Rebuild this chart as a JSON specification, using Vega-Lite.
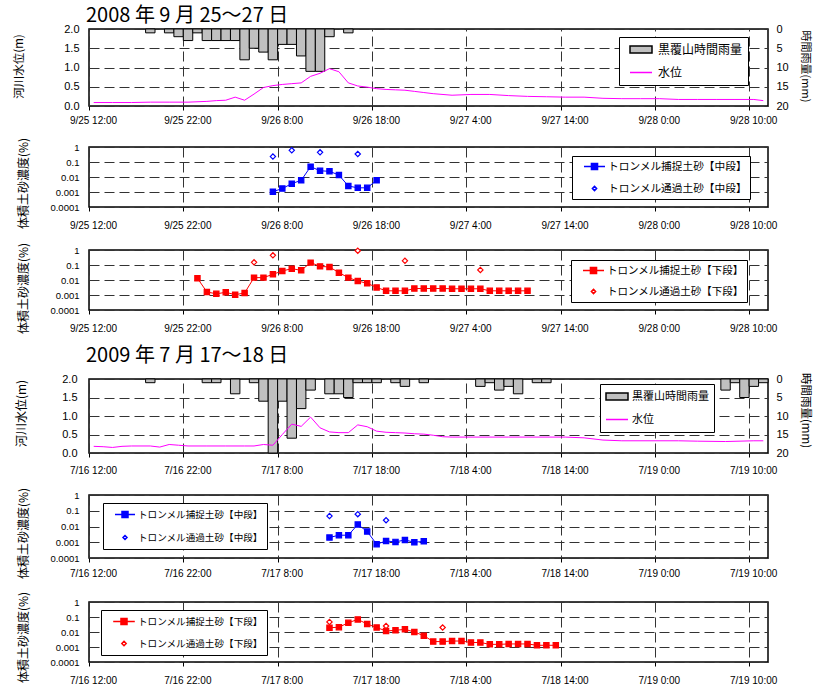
{
"$schema":"https://vega.github.io/schema/vega-lite/v6.json",
"background":"#ffffff",
"padding":{"left":12,"top":5,"right":10,"bottom":0},
"spacing":10,
"config":{
 "font":"Noto Sans CJK JP",
 "view":{"stroke":"#000","strokeWidth":1.5},
 "axis":{"labelFont":"Liberation Sans","labelColor":"#000","labelFontSize":10,"titleFont":"Noto Sans CJK JP","titleFontWeight":"normal","titleColor":"#000","domain":false,"tickColor":"#000","gridColor":"#333","gridDash":[10,5],"gridWidth":1,"gridOpacity":1},
 "axisX":{"tickSize":4,"labelPadding":9,"labelOverlap":false,"labelFlush":false,"labelAngle":0,"labelOffset":4,"grid":true},
 "axisY":{"ticks":false,"labelPadding":10},
 "legend":{"labelFont":"Noto Sans CJK JP","labelColor":"#000"}
},
"datasets":{
 "rain2008":[
  {"t":"2008-09-25T18:00","t2":"2008-09-25T19:00","v":1},
  {"t":"2008-09-25T20:00","t2":"2008-09-25T21:00","v":1},
  {"t":"2008-09-25T21:00","t2":"2008-09-25T22:00","v":2},
  {"t":"2008-09-25T22:00","t2":"2008-09-25T23:00","v":3},
  {"t":"2008-09-25T23:00","t2":"2008-09-26T00:00","v":1},
  {"t":"2008-09-26T00:00","t2":"2008-09-26T01:00","v":3},
  {"t":"2008-09-26T01:00","t2":"2008-09-26T02:00","v":3},
  {"t":"2008-09-26T02:00","t2":"2008-09-26T03:00","v":3},
  {"t":"2008-09-26T03:00","t2":"2008-09-26T04:00","v":3},
  {"t":"2008-09-26T04:00","t2":"2008-09-26T05:00","v":8},
  {"t":"2008-09-26T05:00","t2":"2008-09-26T06:00","v":5},
  {"t":"2008-09-26T06:00","t2":"2008-09-26T07:00","v":6},
  {"t":"2008-09-26T07:00","t2":"2008-09-26T08:00","v":8},
  {"t":"2008-09-26T08:00","t2":"2008-09-26T09:00","v":4},
  {"t":"2008-09-26T09:00","t2":"2008-09-26T10:00","v":4},
  {"t":"2008-09-26T10:00","t2":"2008-09-26T11:00","v":7},
  {"t":"2008-09-26T11:00","t2":"2008-09-26T12:00","v":11},
  {"t":"2008-09-26T12:00","t2":"2008-09-26T13:00","v":11},
  {"t":"2008-09-26T13:00","t2":"2008-09-26T14:00","v":2},
  {"t":"2008-09-26T15:00","t2":"2008-09-26T16:00","v":1}
 ],
 "level2008":[
  {"t":"2008-09-25T12:30","v":0.09},{"t":"2008-09-25T14:30","v":0.09},{"t":"2008-09-25T16:30","v":0.09},
  {"t":"2008-09-25T18:30","v":0.10},{"t":"2008-09-25T20:30","v":0.10},{"t":"2008-09-25T22:30","v":0.10},
  {"t":"2008-09-26T00:30","v":0.12},{"t":"2008-09-26T01:30","v":0.14},{"t":"2008-09-26T02:30","v":0.15},
  {"t":"2008-09-26T03:30","v":0.23},{"t":"2008-09-26T04:30","v":0.15},{"t":"2008-09-26T05:30","v":0.31},
  {"t":"2008-09-26T06:30","v":0.48},{"t":"2008-09-26T07:30","v":0.53},{"t":"2008-09-26T08:30","v":0.56},
  {"t":"2008-09-26T09:30","v":0.58},{"t":"2008-09-26T10:30","v":0.60},{"t":"2008-09-26T11:30","v":0.77},
  {"t":"2008-09-26T12:30","v":0.85},{"t":"2008-09-26T13:30","v":0.97},{"t":"2008-09-26T14:30","v":0.89},
  {"t":"2008-09-26T15:30","v":0.60},{"t":"2008-09-26T16:30","v":0.52},{"t":"2008-09-26T17:30","v":0.49},
  {"t":"2008-09-26T18:30","v":0.45},{"t":"2008-09-26T19:30","v":0.43},{"t":"2008-09-26T20:30","v":0.42},
  {"t":"2008-09-26T21:30","v":0.41},{"t":"2008-09-26T22:30","v":0.38},{"t":"2008-09-26T23:30","v":0.35},
  {"t":"2008-09-27T00:30","v":0.32},{"t":"2008-09-27T02:30","v":0.28},{"t":"2008-09-27T04:30","v":0.30},
  {"t":"2008-09-27T06:30","v":0.30},{"t":"2008-09-27T08:30","v":0.27},{"t":"2008-09-27T10:30","v":0.25},
  {"t":"2008-09-27T12:30","v":0.24},{"t":"2008-09-27T14:30","v":0.23},{"t":"2008-09-27T16:30","v":0.23},
  {"t":"2008-09-27T18:30","v":0.20},{"t":"2008-09-27T20:30","v":0.19},{"t":"2008-09-27T22:30","v":0.19},
  {"t":"2008-09-28T00:30","v":0.19},{"t":"2008-09-28T02:30","v":0.17},{"t":"2008-09-28T04:30","v":0.17},
  {"t":"2008-09-28T06:30","v":0.17},{"t":"2008-09-28T08:30","v":0.17},{"t":"2008-09-28T10:30","v":0.17},
  {"t":"2008-09-28T11:30","v":0.14}
 ],
 "c08m":[
  {"t":"2008-09-26T07:30","v":0.00105,"s":"トロンメル捕捉土砂【中段】"},
  {"t":"2008-09-26T08:30","v":0.0017,"s":"トロンメル捕捉土砂【中段】"},
  {"t":"2008-09-26T09:30","v":0.0036,"s":"トロンメル捕捉土砂【中段】"},
  {"t":"2008-09-26T10:30","v":0.006,"s":"トロンメル捕捉土砂【中段】"},
  {"t":"2008-09-26T11:30","v":0.049,"s":"トロンメル捕捉土砂【中段】"},
  {"t":"2008-09-26T12:30","v":0.026,"s":"トロンメル捕捉土砂【中段】"},
  {"t":"2008-09-26T13:30","v":0.024,"s":"トロンメル捕捉土砂【中段】"},
  {"t":"2008-09-26T14:30","v":0.0135,"s":"トロンメル捕捉土砂【中段】"},
  {"t":"2008-09-26T15:30","v":0.0025,"s":"トロンメル捕捉土砂【中段】"},
  {"t":"2008-09-26T16:30","v":0.0019,"s":"トロンメル捕捉土砂【中段】"},
  {"t":"2008-09-26T17:30","v":0.0019,"s":"トロンメル捕捉土砂【中段】"},
  {"t":"2008-09-26T18:30","v":0.006,"s":"トロンメル捕捉土砂【中段】"},
  {"t":"2008-09-26T07:30","v":0.23,"s":"トロンメル通過土砂【中段】"},
  {"t":"2008-09-26T09:30","v":0.6,"s":"トロンメル通過土砂【中段】"},
  {"t":"2008-09-26T12:30","v":0.44,"s":"トロンメル通過土砂【中段】"},
  {"t":"2008-09-26T16:30","v":0.34,"s":"トロンメル通過土砂【中段】"}
 ],
 "c08l":[
  {"t":"2008-09-25T23:30","v":0.013,"s":"トロンメル捕捉土砂【下段】"},
  {"t":"2008-09-26T00:30","v":0.0016,"s":"トロンメル捕捉土砂【下段】"},
  {"t":"2008-09-26T01:30","v":0.0012,"s":"トロンメル捕捉土砂【下段】"},
  {"t":"2008-09-26T02:30","v":0.0015,"s":"トロンメル捕捉土砂【下段】"},
  {"t":"2008-09-26T03:30","v":0.00105,"s":"トロンメル捕捉土砂【下段】"},
  {"t":"2008-09-26T04:30","v":0.00136,"s":"トロンメル捕捉土砂【下段】"},
  {"t":"2008-09-26T05:30","v":0.0144,"s":"トロンメル捕捉土砂【下段】"},
  {"t":"2008-09-26T06:30","v":0.0144,"s":"トロンメル捕捉土砂【下段】"},
  {"t":"2008-09-26T07:30","v":0.024,"s":"トロンメル捕捉土砂【下段】"},
  {"t":"2008-09-26T08:30","v":0.04,"s":"トロンメル捕捉土砂【下段】"},
  {"t":"2008-09-26T09:30","v":0.057,"s":"トロンメル捕捉土砂【下段】"},
  {"t":"2008-09-26T10:30","v":0.044,"s":"トロンメル捕捉土砂【下段】"},
  {"t":"2008-09-26T11:30","v":0.144,"s":"トロンメル捕捉土砂【下段】"},
  {"t":"2008-09-26T12:30","v":0.081,"s":"トロンメル捕捉土砂【下段】"},
  {"t":"2008-09-26T13:30","v":0.074,"s":"トロンメル捕捉土砂【下段】"},
  {"t":"2008-09-26T14:30","v":0.031,"s":"トロンメル捕捉土砂【下段】"},
  {"t":"2008-09-26T15:30","v":0.0144,"s":"トロンメル捕捉土砂【下段】"},
  {"t":"2008-09-26T16:30","v":0.0086,"s":"トロンメル捕捉土砂【下段】"},
  {"t":"2008-09-26T17:30","v":0.006,"s":"トロンメル捕捉土砂【下段】"},
  {"t":"2008-09-26T18:30","v":0.0032,"s":"トロンメル捕捉土砂【下段】"},
  {"t":"2008-09-26T19:30","v":0.0019,"s":"トロンメル捕捉土砂【下段】"},
  {"t":"2008-09-26T20:30","v":0.0019,"s":"トロンメル捕捉土砂【下段】"},
  {"t":"2008-09-26T21:30","v":0.0019,"s":"トロンメル捕捉土砂【下段】"},
  {"t":"2008-09-26T22:30","v":0.0027,"s":"トロンメル捕捉土砂【下段】"},
  {"t":"2008-09-26T23:30","v":0.0027,"s":"トロンメル捕捉土砂【下段】"},
  {"t":"2008-09-27T00:30","v":0.0027,"s":"トロンメル捕捉土砂【下段】"},
  {"t":"2008-09-27T01:30","v":0.0027,"s":"トロンメル捕捉土砂【下段】"},
  {"t":"2008-09-27T02:30","v":0.0026,"s":"トロンメル捕捉土砂【下段】"},
  {"t":"2008-09-27T03:30","v":0.0026,"s":"トロンメル捕捉土砂【下段】"},
  {"t":"2008-09-27T04:30","v":0.0026,"s":"トロンメル捕捉土砂【下段】"},
  {"t":"2008-09-27T05:30","v":0.0026,"s":"トロンメル捕捉土砂【下段】"},
  {"t":"2008-09-27T06:30","v":0.0019,"s":"トロンメル捕捉土砂【下段】"},
  {"t":"2008-09-27T07:30","v":0.0019,"s":"トロンメル捕捉土砂【下段】"},
  {"t":"2008-09-27T08:30","v":0.0019,"s":"トロンメル捕捉土砂【下段】"},
  {"t":"2008-09-27T09:30","v":0.0019,"s":"トロンメル捕捉土砂【下段】"},
  {"t":"2008-09-27T10:30","v":0.0019,"s":"トロンメル捕捉土砂【下段】"},
  {"t":"2008-09-26T05:30","v":0.15,"s":"トロンメル通過土砂【下段】"},
  {"t":"2008-09-26T07:30","v":0.44,"s":"トロンメル通過土砂【下段】"},
  {"t":"2008-09-26T16:30","v":0.9,"s":"トロンメル通過土砂【下段】"},
  {"t":"2008-09-26T21:30","v":0.19,"s":"トロンメル通過土砂【下段】"},
  {"t":"2008-09-27T05:30","v":0.047,"s":"トロンメル通過土砂【下段】"}
 ],
 "rain2009":[
  {"t":"2009-07-16T18:00","t2":"2009-07-16T19:00","v":1},
  {"t":"2009-07-17T00:00","t2":"2009-07-17T01:00","v":1},
  {"t":"2009-07-17T01:00","t2":"2009-07-17T02:00","v":1},
  {"t":"2009-07-17T03:00","t2":"2009-07-17T04:00","v":4},
  {"t":"2009-07-17T05:00","t2":"2009-07-17T06:00","v":1},
  {"t":"2009-07-17T06:00","t2":"2009-07-17T07:00","v":6},
  {"t":"2009-07-17T07:00","t2":"2009-07-17T08:00","v":20},
  {"t":"2009-07-17T08:00","t2":"2009-07-17T09:00","v":6},
  {"t":"2009-07-17T09:00","t2":"2009-07-17T10:00","v":16},
  {"t":"2009-07-17T10:00","t2":"2009-07-17T11:00","v":8},
  {"t":"2009-07-17T11:00","t2":"2009-07-17T12:00","v":3},
  {"t":"2009-07-17T13:00","t2":"2009-07-17T14:00","v":4},
  {"t":"2009-07-17T14:00","t2":"2009-07-17T15:00","v":4},
  {"t":"2009-07-17T15:00","t2":"2009-07-17T16:00","v":5},
  {"t":"2009-07-17T16:00","t2":"2009-07-17T17:00","v":1},
  {"t":"2009-07-17T17:00","t2":"2009-07-17T18:00","v":1},
  {"t":"2009-07-17T18:00","t2":"2009-07-17T19:00","v":1},
  {"t":"2009-07-17T20:00","t2":"2009-07-17T21:00","v":1},
  {"t":"2009-07-17T21:00","t2":"2009-07-17T22:00","v":2},
  {"t":"2009-07-17T23:00","t2":"2009-07-18T00:00","v":1},
  {"t":"2009-07-18T05:00","t2":"2009-07-18T06:00","v":2},
  {"t":"2009-07-18T06:00","t2":"2009-07-18T07:00","v":1},
  {"t":"2009-07-18T07:00","t2":"2009-07-18T08:00","v":3},
  {"t":"2009-07-18T08:00","t2":"2009-07-18T09:00","v":2},
  {"t":"2009-07-18T09:00","t2":"2009-07-18T10:00","v":4},
  {"t":"2009-07-18T11:00","t2":"2009-07-18T12:00","v":1},
  {"t":"2009-07-18T12:00","t2":"2009-07-18T13:00","v":1},
  {"t":"2009-07-19T07:00","t2":"2009-07-19T08:00","v":3},
  {"t":"2009-07-19T08:00","t2":"2009-07-19T09:00","v":1},
  {"t":"2009-07-19T09:00","t2":"2009-07-19T10:00","v":5},
  {"t":"2009-07-19T10:00","t2":"2009-07-19T11:00","v":2},
  {"t":"2009-07-19T11:00","t2":"2009-07-19T12:00","v":1}
 ],
 "level2009":[
  {"t":"2009-07-16T12:30","v":0.18},{"t":"2009-07-16T13:30","v":0.17},{"t":"2009-07-16T14:30","v":0.15},
  {"t":"2009-07-16T15:30","v":0.18},{"t":"2009-07-16T16:30","v":0.19},{"t":"2009-07-16T18:30","v":0.19},
  {"t":"2009-07-16T19:30","v":0.16},{"t":"2009-07-16T20:30","v":0.23},{"t":"2009-07-16T21:30","v":0.21},
  {"t":"2009-07-16T22:30","v":0.19},{"t":"2009-07-17T00:30","v":0.19},{"t":"2009-07-17T02:30","v":0.19},
  {"t":"2009-07-17T04:30","v":0.19},{"t":"2009-07-17T05:30","v":0.19},{"t":"2009-07-17T06:30","v":0.23},
  {"t":"2009-07-17T07:30","v":0.21},{"t":"2009-07-17T08:30","v":0.50},{"t":"2009-07-17T09:30","v":0.78},
  {"t":"2009-07-17T10:30","v":0.72},{"t":"2009-07-17T11:30","v":0.97},{"t":"2009-07-17T12:30","v":0.68},
  {"t":"2009-07-17T13:30","v":0.57},{"t":"2009-07-17T14:30","v":0.55},{"t":"2009-07-17T15:30","v":0.55},
  {"t":"2009-07-17T16:30","v":0.76},{"t":"2009-07-17T17:30","v":0.71},{"t":"2009-07-17T18:30","v":0.59},
  {"t":"2009-07-17T19:30","v":0.56},{"t":"2009-07-17T20:30","v":0.55},{"t":"2009-07-17T21:30","v":0.54},
  {"t":"2009-07-17T22:30","v":0.52},{"t":"2009-07-17T23:30","v":0.51},{"t":"2009-07-18T00:30","v":0.48},
  {"t":"2009-07-18T01:30","v":0.44},{"t":"2009-07-18T02:30","v":0.43},{"t":"2009-07-18T08:30","v":0.43},
  {"t":"2009-07-18T14:30","v":0.43},{"t":"2009-07-18T16:30","v":0.41},{"t":"2009-07-18T18:30","v":0.35},
  {"t":"2009-07-18T20:30","v":0.33},{"t":"2009-07-19T02:30","v":0.33},{"t":"2009-07-19T04:30","v":0.32},
  {"t":"2009-07-19T07:30","v":0.31},{"t":"2009-07-19T10:30","v":0.33},{"t":"2009-07-19T11:30","v":0.33}
 ],
 "c09m":[
  {"t":"2009-07-17T13:30","v":0.002,"s":"トロンメル捕捉土砂【中段】"},
  {"t":"2009-07-17T14:30","v":0.0028,"s":"トロンメル捕捉土砂【中段】"},
  {"t":"2009-07-17T15:30","v":0.0028,"s":"トロンメル捕捉土砂【中段】"},
  {"t":"2009-07-17T16:30","v":0.0134,"s":"トロンメル捕捉土砂【中段】"},
  {"t":"2009-07-17T17:30","v":0.0048,"s":"トロンメル捕捉土砂【中段】"},
  {"t":"2009-07-17T18:30","v":0.00075,"s":"トロンメル捕捉土砂【中段】"},
  {"t":"2009-07-17T19:30","v":0.0012,"s":"トロンメル捕捉土砂【中段】"},
  {"t":"2009-07-17T20:30","v":0.00105,"s":"トロンメル捕捉土砂【中段】"},
  {"t":"2009-07-17T21:30","v":0.0014,"s":"トロンメル捕捉土砂【中段】"},
  {"t":"2009-07-17T22:30","v":0.001,"s":"トロンメル捕捉土砂【中段】"},
  {"t":"2009-07-17T23:30","v":0.00115,"s":"トロンメル捕捉土砂【中段】"},
  {"t":"2009-07-17T13:30","v":0.046,"s":"トロンメル通過土砂【中段】"},
  {"t":"2009-07-17T16:30","v":0.061,"s":"トロンメル通過土砂【中段】"},
  {"t":"2009-07-17T19:30","v":0.025,"s":"トロンメル通過土砂【中段】"}
 ],
 "c09l":[
  {"t":"2009-07-17T13:30","v":0.019,"s":"トロンメル捕捉土砂【下段】"},
  {"t":"2009-07-17T14:30","v":0.021,"s":"トロンメル捕捉土砂【下段】"},
  {"t":"2009-07-17T15:30","v":0.041,"s":"トロンメル捕捉土砂【下段】"},
  {"t":"2009-07-17T16:30","v":0.069,"s":"トロンメル捕捉土砂【下段】"},
  {"t":"2009-07-17T17:30","v":0.034,"s":"トロンメル捕捉土砂【下段】"},
  {"t":"2009-07-17T18:30","v":0.02,"s":"トロンメル捕捉土砂【下段】"},
  {"t":"2009-07-17T19:30","v":0.0117,"s":"トロンメル捕捉土砂【下段】"},
  {"t":"2009-07-17T20:30","v":0.013,"s":"トロンメル捕捉土砂【下段】"},
  {"t":"2009-07-17T21:30","v":0.015,"s":"トロンメル捕捉土砂【下段】"},
  {"t":"2009-07-17T22:30","v":0.01,"s":"トロンメル捕捉土砂【下段】"},
  {"t":"2009-07-17T23:30","v":0.0057,"s":"トロンメル捕捉土砂【下段】"},
  {"t":"2009-07-18T00:30","v":0.0023,"s":"トロンメル捕捉土砂【下段】"},
  {"t":"2009-07-18T01:30","v":0.0023,"s":"トロンメル捕捉土砂【下段】"},
  {"t":"2009-07-18T02:30","v":0.0025,"s":"トロンメル捕捉土砂【下段】"},
  {"t":"2009-07-18T03:30","v":0.0025,"s":"トロンメル捕捉土砂【下段】"},
  {"t":"2009-07-18T04:30","v":0.002,"s":"トロンメル捕捉土砂【下段】"},
  {"t":"2009-07-18T05:30","v":0.002,"s":"トロンメル捕捉土砂【下段】"},
  {"t":"2009-07-18T06:30","v":0.0015,"s":"トロンメル捕捉土砂【下段】"},
  {"t":"2009-07-18T07:30","v":0.0015,"s":"トロンメル捕捉土砂【下段】"},
  {"t":"2009-07-18T08:30","v":0.0016,"s":"トロンメル捕捉土砂【下段】"},
  {"t":"2009-07-18T09:30","v":0.0016,"s":"トロンメル捕捉土砂【下段】"},
  {"t":"2009-07-18T10:30","v":0.0016,"s":"トロンメル捕捉土砂【下段】"},
  {"t":"2009-07-18T11:30","v":0.0013,"s":"トロンメル捕捉土砂【下段】"},
  {"t":"2009-07-18T12:30","v":0.0013,"s":"トロンメル捕捉土砂【下段】"},
  {"t":"2009-07-18T13:30","v":0.0013,"s":"トロンメル捕捉土砂【下段】"},
  {"t":"2009-07-17T13:30","v":0.047,"s":"トロンメル通過土砂【下段】"},
  {"t":"2009-07-17T19:30","v":0.025,"s":"トロンメル通過土砂【下段】"},
  {"t":"2009-07-18T01:30","v":0.02,"s":"トロンメル通過土砂【下段】"}
 ]
},
"resolve":{"scale":{"size":"independent"},"legend":{"size":"independent"}},
"vconcat":[
 {
  "width":679,"height":77,
  "title":{"text":"2008 年 9 月 25～27 日","anchor":"start","frame":"group","dx":-3,"offset":-3,"fontSize":20,"font":"Noto Sans CJK JP","fontWeight":"normal","color":"#000"},
  "encoding":{"x":{"field":"t","type":"temporal","title":null,"scale":{"domain":[{"year":2008,"month":9,"date":25,"hours":12},{"year":2008,"month":9,"date":28,"hours":12}]},"axis":{"values":[{"year":2008,"month":9,"date":25,"hours":12},{"year":2008,"month":9,"date":25,"hours":22},{"year":2008,"month":9,"date":26,"hours":8},{"year":2008,"month":9,"date":26,"hours":18},{"year":2008,"month":9,"date":27,"hours":4},{"year":2008,"month":9,"date":27,"hours":14},{"year":2008,"month":9,"date":28,"hours":0},{"year":2008,"month":9,"date":28,"hours":10}],"format":"%-m/%-d %-H:%M","labelPadding":5}}},
  "layer":[
   {"data":{"name":"rain2008"},"mark":{"type":"rect","stroke":"#000","strokeWidth":1,"fill":"#c0c0c0"},
    "encoding":{"x2":{"field":"t2"},
     "y":{"field":"v","type":"quantitative","scale":{"domain":[0,20],"reverse":true},"axis":{"orient":"right","title":"時間雨量(mm)","values":[0,5,10,15,20],"grid":false,"labelFontSize":11,"labelPadding":8,"titleFontSize":11,"titleX":36,"titleY":37,"titleBaseline":"middle","titleAngle":90}},
     "y2":{"datum":0}}},
   {"data":{"name":"level2008"},"mark":{"type":"line","strokeWidth":1,"color":"#ff00ff"},
    "encoding":{"y":{"field":"v","type":"quantitative","scale":{"domain":[0,2]},"axis":{"orient":"left","title":"河川水位(m)","values":[0,0.5,1,1.5,2],"format":".1f","grid":true,"labelFontSize":11,"labelPadding":10,"titleFontSize":11.5,"titleX":-70,"titleY":37,"titleBaseline":"middle"}}}},
   {"data":{"name":"rain2008"},"transform":[{"filter":"false"}],
    "mark":{"type":"point","opacity":0,"filled":true,"fill":{"expr":"datum.value === '黒覆山時間雨量' ? '#c0c0c0' : 'transparent'"},"stroke":{"expr":"datum.value === '黒覆山時間雨量' ? '#000000' : '#ff00ff'"},"strokeWidth":1},
    "encoding":{"size":{"datum":"黒覆山時間雨量","type":"ordinal","scale":{"domain":["黒覆山時間雨量","水位"],"range":[484,484]},
      "legend":{"title":null,"orient":"none","legendX":530,"legendY":8,"fillColor":"#fff","strokeColor":"#000","padding":5,"symbolOffset":5,"labelOffset":5,"rowPadding":8,"clipHeight":15,"labelFontSize":12,
       "symbolType":{"expr":"datum.value === '黒覆山時間雨量' ? 'M-1,-0.32H1V0.32H-1Z' : 'M-1,0H1'"},
       "encode":{"symbols":{
        "shape":{"value":{"expr":"datum.value === '黒覆山時間雨量' ? 'M-1,-0.32H1V0.32H-1Z' : 'M-1,0H1'"}},
        "fill":{"value":{"expr":"datum.value === '黒覆山時間雨量' ? '#c0c0c0' : 'transparent'"}},
        "stroke":{"value":{"expr":"datum.value === '黒覆山時間雨量' ? '#000000' : '#ff00ff'"}},
        "strokeWidth":{"value":1},"opacity":{"value":1}}}}}}}
  ],
  "resolve":{"scale":{"y":"independent"},"axis":{"y":"independent"}}
 },
 {
  "width":679,"height":60,
  "data":{"name":"c08m"},
  "encoding":{"x":{"field":"t","type":"temporal","title":null,"scale":{"domain":[{"year":2008,"month":9,"date":25,"hours":12},{"year":2008,"month":9,"date":28,"hours":12}]},"axis":{"values":[{"year":2008,"month":9,"date":25,"hours":12},{"year":2008,"month":9,"date":25,"hours":22},{"year":2008,"month":9,"date":26,"hours":8},{"year":2008,"month":9,"date":26,"hours":18},{"year":2008,"month":9,"date":27,"hours":4},{"year":2008,"month":9,"date":27,"hours":14},{"year":2008,"month":9,"date":28,"hours":0},{"year":2008,"month":9,"date":28,"hours":10}],"format":"%-m/%-d %-H:%M","labelPadding":9}},
   "y":{"field":"v","type":"quantitative","scale":{"type":"log","domain":[0.0001,1]},"axis":{"title":"体積土砂濃度(%)","values":[0.0001,0.001,0.01,0.1,1],"labelExpr":"datum.value < 0.0005 ? '0.0001' : datum.value < 0.005 ? '0.001' : datum.value < 0.05 ? '0.01' : datum.value < 0.5 ? '0.1' : '1'","grid":true,"labelFontSize":9.5,"titleFontSize":12,"titleX":-66,"titleY":36,"titleBaseline":"middle"}}},
  "layer":[
   {"transform":[{"filter":"datum.s === 'トロンメル捕捉土砂【中段】'"}],"mark":{"type":"line","color":"#0000ff","strokeWidth":1}},
   {"mark":{"type":"point","filled":true,"opacity":1,"strokeWidth":1.2,"size":28,"stroke":"#0000ff"},
    "encoding":{
     "shape":{"condition":{"test":"datum.s === 'トロンメル捕捉土砂【中段】'","value":"square"},"value":"diamond"},
     "fill":{"condition":{"test":"datum.s === 'トロンメル捕捉土砂【中段】'","value":"#0000ff"},"value":"#ffffff"}}},
   {"transform":[{"filter":"false"}],
    "mark":{"type":"point","opacity":0,"filled":true,"fill":{"expr":"datum.value === 'トロンメル捕捉土砂【中段】' ? '#0000ff' : '#ffffff'"},"stroke":"#0000ff","strokeWidth":1.2},
    "encoding":{"size":{"field":"s","type":"ordinal","scale":{"domain":["トロンメル捕捉土砂【中段】","トロンメル通過土砂【中段】"],"range":[441,441]},
      "legend":{"title":null,"orient":"none","legendX":483,"legendY":9,"fillColor":"#fff","strokeColor":"#000","padding":3,"symbolOffset":8,"labelOffset":2,"rowPadding":7,"clipHeight":15,"labelFontSize":10.7,
       "symbolType":{"expr":"datum.value === 'トロンメル捕捉土砂【中段】' ? 'M-1,0H1M-0.29,-0.29H0.29V0.29H-0.29Z' : 'M0,-0.2L0.2,0L0,0.2L-0.2,0Z'"},
       "encode":{"symbols":{
        "shape":{"value":{"expr":"datum.value === 'トロンメル捕捉土砂【中段】' ? 'M-1,0H1M-0.29,-0.29H0.29V0.29H-0.29Z' : 'M0,-0.2L0.2,0L0,0.2L-0.2,0Z'"}},
        "fill":{"value":{"expr":"datum.value === 'トロンメル捕捉土砂【中段】' ? '#0000ff' : '#ffffff'"}},
        "stroke":{"value":"#0000ff"},"strokeWidth":{"value":1.2},"opacity":{"value":1}}}}}}}
  ]
 },
 {
  "width":679,"height":60,
  "data":{"name":"c08l"},
  "encoding":{"x":{"field":"t","type":"temporal","title":null,"scale":{"domain":[{"year":2008,"month":9,"date":25,"hours":12},{"year":2008,"month":9,"date":28,"hours":12}]},"axis":{"values":[{"year":2008,"month":9,"date":25,"hours":12},{"year":2008,"month":9,"date":25,"hours":22},{"year":2008,"month":9,"date":26,"hours":8},{"year":2008,"month":9,"date":26,"hours":18},{"year":2008,"month":9,"date":27,"hours":4},{"year":2008,"month":9,"date":27,"hours":14},{"year":2008,"month":9,"date":28,"hours":0},{"year":2008,"month":9,"date":28,"hours":10}],"format":"%-m/%-d %-H:%M","labelPadding":9}},
   "y":{"field":"v","type":"quantitative","scale":{"type":"log","domain":[0.0001,1]},"axis":{"title":"体積土砂濃度(%)","values":[0.0001,0.001,0.01,0.1,1],"labelExpr":"datum.value < 0.0005 ? '0.0001' : datum.value < 0.005 ? '0.001' : datum.value < 0.05 ? '0.01' : datum.value < 0.5 ? '0.1' : '1'","grid":true,"labelFontSize":9.5,"titleFontSize":12,"titleX":-66,"titleY":38,"titleBaseline":"middle"}}},
  "layer":[
   {"transform":[{"filter":"datum.s === 'トロンメル捕捉土砂【下段】'"}],"mark":{"type":"line","color":"#ff0000","strokeWidth":1}},
   {"mark":{"type":"point","filled":true,"opacity":1,"strokeWidth":1.2,"size":28,"stroke":"#ff0000"},
    "encoding":{
     "shape":{"condition":{"test":"datum.s === 'トロンメル捕捉土砂【下段】'","value":"square"},"value":"diamond"},
     "fill":{"condition":{"test":"datum.s === 'トロンメル捕捉土砂【下段】'","value":"#ff0000"},"value":"#ffffff"}}},
   {"transform":[{"filter":"false"}],
    "mark":{"type":"point","opacity":0,"filled":true,"fill":{"expr":"datum.value === 'トロンメル捕捉土砂【下段】' ? '#ff0000' : '#ffffff'"},"stroke":"#ff0000","strokeWidth":1.2},
    "encoding":{"size":{"field":"s","type":"ordinal","scale":{"domain":["トロンメル捕捉土砂【下段】","トロンメル通過土砂【下段】"],"range":[441,441]},
      "legend":{"title":null,"orient":"none","legendX":482,"legendY":10,"fillColor":"#fff","strokeColor":"#000","padding":3,"symbolOffset":8,"labelOffset":2,"rowPadding":6,"clipHeight":15,"labelFontSize":10.5,
       "symbolType":{"expr":"datum.value === 'トロンメル捕捉土砂【下段】' ? 'M-1,0H1M-0.29,-0.29H0.29V0.29H-0.29Z' : 'M0,-0.2L0.2,0L0,0.2L-0.2,0Z'"},
       "encode":{"symbols":{
        "shape":{"value":{"expr":"datum.value === 'トロンメル捕捉土砂【下段】' ? 'M-1,0H1M-0.29,-0.29H0.29V0.29H-0.29Z' : 'M0,-0.2L0.2,0L0,0.2L-0.2,0Z'"}},
        "fill":{"value":{"expr":"datum.value === 'トロンメル捕捉土砂【下段】' ? '#ff0000' : '#ffffff'"}},
        "stroke":{"value":"#ff0000"},"strokeWidth":{"value":1.2},"opacity":{"value":1}}}}}}}
  ]
 },
 {
  "width":679,"height":74,
  "title":{"text":"2009 年 7 月 17～18 日","anchor":"start","frame":"group","dx":-3,"offset":6,"fontSize":20,"font":"Noto Sans CJK JP","fontWeight":"normal","color":"#000"},
  "encoding":{"x":{"field":"t","type":"temporal","title":null,"scale":{"domain":[{"year":2009,"month":7,"date":16,"hours":12},{"year":2009,"month":7,"date":19,"hours":12}]},"axis":{"values":[{"year":2009,"month":7,"date":16,"hours":12},{"year":2009,"month":7,"date":16,"hours":22},{"year":2009,"month":7,"date":17,"hours":8},{"year":2009,"month":7,"date":17,"hours":18},{"year":2009,"month":7,"date":18,"hours":4},{"year":2009,"month":7,"date":18,"hours":14},{"year":2009,"month":7,"date":19,"hours":0},{"year":2009,"month":7,"date":19,"hours":10}],"format":"%-m/%-d %-H:%M","labelPadding":8}}},
  "layer":[
   {"data":{"name":"rain2009"},"mark":{"type":"rect","stroke":"#000","strokeWidth":1,"fill":"#c0c0c0"},
    "encoding":{"x2":{"field":"t2"},
     "y":{"field":"v","type":"quantitative","scale":{"domain":[0,20],"reverse":true},"axis":{"orient":"right","title":"時間雨量(mm)","values":[0,5,10,15,20],"grid":false,"labelFontSize":11,"labelPadding":8,"titleFontSize":11.5,"titleX":36,"titleY":31,"titleBaseline":"middle","titleAngle":90}},
     "y2":{"datum":0}}},
   {"data":{"name":"level2009"},"mark":{"type":"line","strokeWidth":1,"color":"#ff00ff"},
    "encoding":{"y":{"field":"v","type":"quantitative","scale":{"domain":[0,2]},"axis":{"orient":"left","title":"河川水位(m)","values":[0,0.5,1,1.5,2],"format":".1f","grid":true,"labelFontSize":11,"labelPadding":12,"titleFontSize":12,"titleX":-68,"titleY":34,"titleBaseline":"middle"}}}},
   {"data":{"name":"rain2009"},"transform":[{"filter":"false"}],
    "mark":{"type":"point","opacity":0,"filled":true,"fill":{"expr":"datum.value === '黒覆山時間雨量' ? '#c0c0c0' : 'transparent'"},"stroke":{"expr":"datum.value === '黒覆山時間雨量' ? '#000000' : '#ff00ff'"},"strokeWidth":1},
    "encoding":{"size":{"datum":"黒覆山時間雨量","type":"ordinal","scale":{"domain":["黒覆山時間雨量","水位"],"range":[484,484]},
      "legend":{"title":null,"orient":"none","legendX":511,"legendY":5,"fillColor":"#fff","strokeColor":"#000","padding":5,"symbolOffset":0,"labelOffset":3,"rowPadding":8,"clipHeight":15,"labelFontSize":11,
       "symbolType":{"expr":"datum.value === '黒覆山時間雨量' ? 'M-1,-0.32H1V0.32H-1Z' : 'M-1,0H1'"},
       "encode":{"symbols":{
        "shape":{"value":{"expr":"datum.value === '黒覆山時間雨量' ? 'M-1,-0.32H1V0.32H-1Z' : 'M-1,0H1'"}},
        "fill":{"value":{"expr":"datum.value === '黒覆山時間雨量' ? '#c0c0c0' : 'transparent'"}},
        "stroke":{"value":{"expr":"datum.value === '黒覆山時間雨量' ? '#000000' : '#ff00ff'"}},
        "strokeWidth":{"value":1},"opacity":{"value":1}}}}}}}
  ],
  "resolve":{"scale":{"y":"independent"},"axis":{"y":"independent"}}
 },
 {
  "width":679,"height":63,
  "data":{"name":"c09m"},
  "encoding":{"x":{"field":"t","type":"temporal","title":null,"scale":{"domain":[{"year":2009,"month":7,"date":16,"hours":12},{"year":2009,"month":7,"date":19,"hours":12}]},"axis":{"values":[{"year":2009,"month":7,"date":16,"hours":12},{"year":2009,"month":7,"date":16,"hours":22},{"year":2009,"month":7,"date":17,"hours":8},{"year":2009,"month":7,"date":17,"hours":18},{"year":2009,"month":7,"date":18,"hours":4},{"year":2009,"month":7,"date":18,"hours":14},{"year":2009,"month":7,"date":19,"hours":0},{"year":2009,"month":7,"date":19,"hours":10}],"format":"%-m/%-d %-H:%M","labelPadding":6}},
   "y":{"field":"v","type":"quantitative","scale":{"type":"log","domain":[0.0001,1]},"axis":{"title":"体積土砂濃度(%)","values":[0.0001,0.001,0.01,0.1,1],"labelExpr":"datum.value < 0.0005 ? '0.0001' : datum.value < 0.005 ? '0.001' : datum.value < 0.05 ? '0.01' : datum.value < 0.5 ? '0.1' : '1'","grid":true,"labelFontSize":9.5,"titleFontSize":12,"titleX":-66,"titleY":38,"titleBaseline":"middle"}}},
  "layer":[
   {"transform":[{"filter":"datum.s === 'トロンメル捕捉土砂【中段】'"}],"mark":{"type":"line","color":"#0000ff","strokeWidth":1}},
   {"mark":{"type":"point","filled":true,"opacity":1,"strokeWidth":1.2,"size":28,"stroke":"#0000ff"},
    "encoding":{
     "shape":{"condition":{"test":"datum.s === 'トロンメル捕捉土砂【中段】'","value":"square"},"value":"diamond"},
     "fill":{"condition":{"test":"datum.s === 'トロンメル捕捉土砂【中段】'","value":"#0000ff"},"value":"#ffffff"}}},
   {"transform":[{"filter":"false"}],
    "mark":{"type":"point","opacity":0,"filled":true,"fill":{"expr":"datum.value === 'トロンメル捕捉土砂【中段】' ? '#0000ff' : '#ffffff'"},"stroke":"#0000ff","strokeWidth":1.2},
    "encoding":{"size":{"field":"s","type":"ordinal","scale":{"domain":["トロンメル捕捉土砂【中段】","トロンメル通過土砂【中段】"],"range":[400,400]},
      "legend":{"title":null,"orient":"none","legendX":14,"legendY":8,"fillColor":"#fff","strokeColor":"#000","padding":4,"symbolOffset":7,"labelOffset":2,"rowPadding":8,"clipHeight":15,"labelFontSize":9.6,
       "symbolType":{"expr":"datum.value === 'トロンメル捕捉土砂【中段】' ? 'M-1,0H1M-0.3,-0.3H0.3V0.3H-0.3Z' : 'M0,-0.2L0.2,0L0,0.2L-0.2,0Z'"},
       "encode":{"symbols":{
        "shape":{"value":{"expr":"datum.value === 'トロンメル捕捉土砂【中段】' ? 'M-1,0H1M-0.3,-0.3H0.3V0.3H-0.3Z' : 'M0,-0.2L0.2,0L0,0.2L-0.2,0Z'"}},
        "fill":{"value":{"expr":"datum.value === 'トロンメル捕捉土砂【中段】' ? '#0000ff' : '#ffffff'"}},
        "stroke":{"value":"#0000ff"},"strokeWidth":{"value":1.2},"opacity":{"value":1}}}}}}}
  ]
 },
 {
  "width":679,"height":60,
  "data":{"name":"c09l"},
  "encoding":{"x":{"field":"t","type":"temporal","title":null,"scale":{"domain":[{"year":2009,"month":7,"date":16,"hours":12},{"year":2009,"month":7,"date":19,"hours":12}]},"axis":{"values":[{"year":2009,"month":7,"date":16,"hours":12},{"year":2009,"month":7,"date":16,"hours":22},{"year":2009,"month":7,"date":17,"hours":8},{"year":2009,"month":7,"date":17,"hours":18},{"year":2009,"month":7,"date":18,"hours":4},{"year":2009,"month":7,"date":18,"hours":14},{"year":2009,"month":7,"date":19,"hours":0},{"year":2009,"month":7,"date":19,"hours":10}],"format":"%-m/%-d %-H:%M","labelPadding":9}},
   "y":{"field":"v","type":"quantitative","scale":{"type":"log","domain":[0.0001,1]},"axis":{"title":"体積土砂濃度(%)","values":[0.0001,0.001,0.01,0.1,1],"labelExpr":"datum.value < 0.0005 ? '0.0001' : datum.value < 0.005 ? '0.001' : datum.value < 0.05 ? '0.01' : datum.value < 0.5 ? '0.1' : '1'","grid":true,"labelFontSize":9.5,"titleFontSize":12,"titleX":-66,"titleY":35,"titleBaseline":"middle"}}},
  "layer":[
   {"transform":[{"filter":"datum.s === 'トロンメル捕捉土砂【下段】'"}],"mark":{"type":"line","color":"#ff0000","strokeWidth":1}},
   {"mark":{"type":"point","filled":true,"opacity":1,"strokeWidth":1.2,"size":28,"stroke":"#ff0000"},
    "encoding":{
     "shape":{"condition":{"test":"datum.s === 'トロンメル捕捉土砂【下段】'","value":"square"},"value":"diamond"},
     "fill":{"condition":{"test":"datum.s === 'トロンメル捕捉土砂【下段】'","value":"#ff0000"},"value":"#ffffff"}}},
   {"transform":[{"filter":"false"}],
    "mark":{"type":"point","opacity":0,"filled":true,"fill":{"expr":"datum.value === 'トロンメル捕捉土砂【下段】' ? '#ff0000' : '#ffffff'"},"stroke":"#ff0000","strokeWidth":1.2},
    "encoding":{"size":{"field":"s","type":"ordinal","scale":{"domain":["トロンメル捕捉土砂【下段】","トロンメル通過土砂【下段】"],"range":[466,466]},
      "legend":{"title":null,"orient":"none","legendX":12,"legendY":8,"fillColor":"#fff","strokeColor":"#000","padding":4,"symbolOffset":7,"labelOffset":2,"rowPadding":7,"clipHeight":15,"labelFontSize":9.6,
       "symbolType":{"expr":"datum.value === 'トロンメル捕捉土砂【下段】' ? 'M-1,0H1M-0.28,-0.28H0.28V0.28H-0.28Z' : 'M0,-0.2L0.2,0L0,0.2L-0.2,0Z'"},
       "encode":{"symbols":{
        "shape":{"value":{"expr":"datum.value === 'トロンメル捕捉土砂【下段】' ? 'M-1,0H1M-0.28,-0.28H0.28V0.28H-0.28Z' : 'M0,-0.2L0.2,0L0,0.2L-0.2,0Z'"}},
        "fill":{"value":{"expr":"datum.value === 'トロンメル捕捉土砂【下段】' ? '#ff0000' : '#ffffff'"}},
        "stroke":{"value":"#ff0000"},"strokeWidth":{"value":1.2},"opacity":{"value":1}}}}}}}
  ]
 }
]
}
